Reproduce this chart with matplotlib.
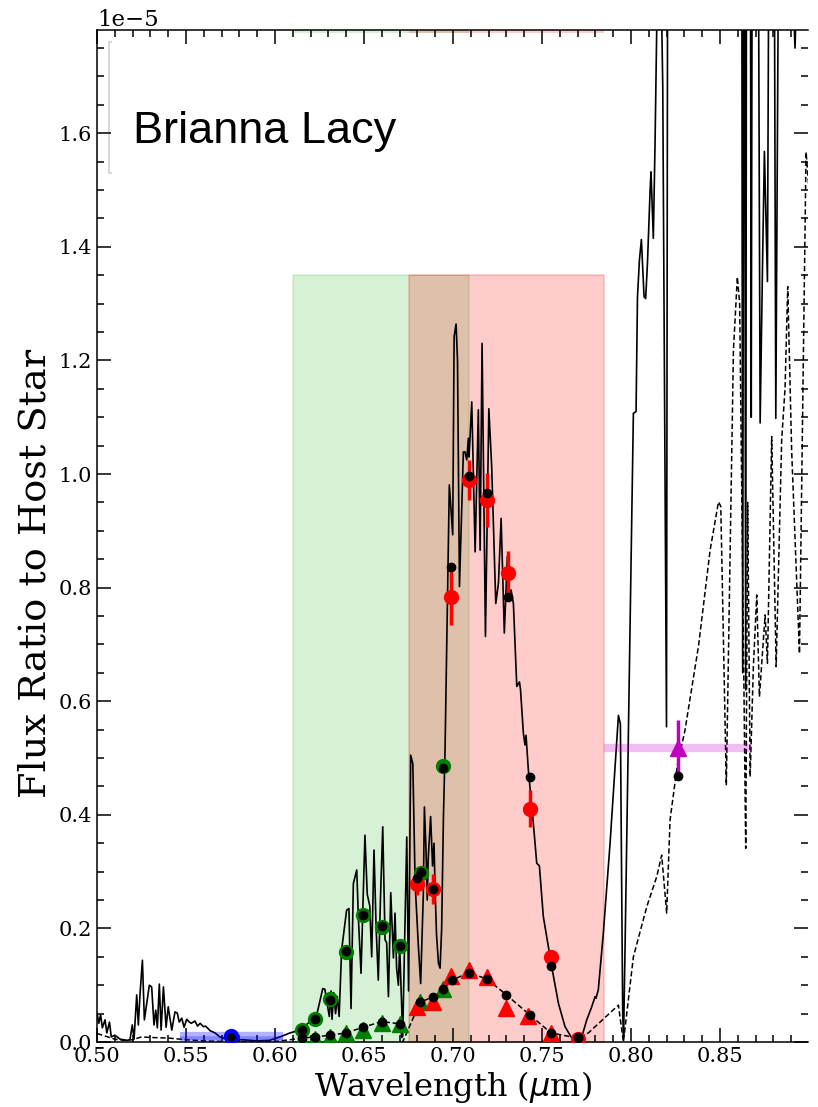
import numpy as np
import matplotlib
matplotlib.use("Agg")
import matplotlib.pyplot as plt
from matplotlib.ticker import MultipleLocator, FormatStrFormatter

SCALE = 1e-5  # all flux ratios below are in units of 1e-5

# High-resolution model spectrum (solid)
spec_wl = [0.5000, 0.5010, 0.5020, 0.5030, 0.5045, 0.5055, 0.5070, 0.5080, 0.5100, 0.5130,
           0.5167, 0.5185, 0.5198, 0.5208, 0.5223, 0.5232, 0.5242, 0.5255, 0.5266, 0.5280,
           0.5294, 0.5307, 0.5320, 0.5330, 0.5339, 0.5350, 0.5360, 0.5373, 0.5388, 0.5400,
           0.5420, 0.5438, 0.5451, 0.5462, 0.5476, 0.5489, 0.5504, 0.5519, 0.5530, 0.5550,
           0.5565, 0.5579, 0.5598, 0.5610, 0.5635, 0.5663, 0.5690, 0.5729, 0.5760, 0.5820,
           0.5897, 0.5970, 0.6028, 0.6084, 0.6140, 0.6197, 0.6230, 0.6268, 0.6280, 0.6290,
           0.6305, 0.6315, 0.6320, 0.6330, 0.6340, 0.6350, 0.6360, 0.6374, 0.6402, 0.6415,
           0.6427, 0.6440, 0.6459, 0.6468, 0.6483, 0.6505, 0.6518, 0.6532, 0.6543, 0.6556,
           0.6568, 0.6580, 0.6593, 0.6605, 0.6618, 0.6627, 0.6637, 0.6650, 0.6665, 0.6674,
           0.6683, 0.6693, 0.6700, 0.6717, 0.6740, 0.6750, 0.6762, 0.6774, 0.6787, 0.6805,
           0.6818, 0.6833, 0.6839, 0.6848, 0.6855, 0.6860, 0.6874, 0.6885, 0.6893, 0.6900,
           0.6907, 0.6918, 0.6927, 0.6936, 0.6946, 0.6955, 0.6964, 0.6979, 0.6998, 0.7006,
           0.7017, 0.7025, 0.7036, 0.7058, 0.7067, 0.7077, 0.7086, 0.7090, 0.7105, 0.7124,
           0.7142, 0.7152, 0.7163, 0.7182, 0.7201, 0.7217, 0.7240, 0.7255, 0.7270, 0.7288,
           0.7305, 0.7316, 0.7326, 0.7339, 0.7350, 0.7358, 0.7373, 0.7379, 0.7395, 0.7404,
           0.7410, 0.7423, 0.7451, 0.7470, 0.7485, 0.7507, 0.7554, 0.7592, 0.7629, 0.7667,
           0.7695, 0.7723, 0.7751, 0.7779, 0.7798, 0.7803, 0.7816, 0.7844, 0.7882, 0.7910,
           0.7929, 0.7940, 0.7953, 0.7958, 0.7966, 0.8013, 0.8028, 0.8036, 0.8047, 0.8058,
           0.8073, 0.8082, 0.8092, 0.8107, 0.8112, 0.8125, 0.8135, 0.8144, 0.8152, 0.8162,
           0.8178, 0.8199, 0.8208, 0.8300, 0.8450, 0.8620, 0.8627, 0.8635, 0.8644, 0.8650,
           0.8668, 0.8675, 0.8683, 0.8710, 0.8725, 0.8740, 0.8749, 0.8766, 0.8780, 0.8800,
           0.8813, 0.8837, 0.8900, 0.8915, 0.8921, 0.8930, 0.8960, 0.9000]
spec_fr = [0.051, 0.033, 0.048, 0.025, 0.039, 0.016, 0.035, 0.009, 0.012, 0.005,
           0.003, 0.004, 0.030, 0.005, 0.083, 0.030, 0.086, 0.144, 0.039, 0.069,
           0.100, 0.097, 0.030, 0.056, 0.025, 0.102, 0.021, 0.097, 0.026, 0.062,
           0.021, 0.053, 0.051, 0.035, 0.042, 0.026, 0.040, 0.035, 0.033, 0.037,
           0.028, 0.033, 0.027, 0.028, 0.020, 0.016, 0.009, 0.005, 0.004, 0.004,
           0.002, 0.003, 0.009, 0.016, 0.021, 0.036, 0.042, 0.094, 0.093, 0.073,
           0.045, 0.090, 0.040, 0.087, 0.050, 0.080, 0.045, 0.162, 0.232, 0.235,
           0.059, 0.279, 0.303, 0.220, 0.121, 0.364, 0.260, 0.240, 0.150, 0.338,
           0.200, 0.109, 0.260, 0.379, 0.180, 0.175, 0.080, 0.263, 0.148, 0.227,
           0.130, 0.100, 0.170, 0.010, 0.361, 0.090, 0.505, 0.490, 0.279, 0.170,
           0.103, 0.260, 0.414, 0.340, 0.250, 0.320, 0.397, 0.310, 0.350, 0.260,
           0.190, 0.139, 0.130, 0.200, 0.397, 0.514, 0.690, 0.981, 0.893, 1.242,
           1.264, 1.200, 0.802, 1.039, 1.039, 1.025, 1.063, 1.030, 1.127, 0.863,
           1.113, 0.866, 1.230, 0.714, 1.115, 1.013, 0.772, 0.808, 0.922, 0.720,
           0.855, 0.784, 0.796, 0.772, 0.690, 0.626, 0.634, 0.620, 0.544, 0.523,
           0.540, 0.479, 0.385, 0.315, 0.310, 0.221, 0.133, 0.068, 0.027, 0.007,
           0.004, 0.009, 0.039, 0.062, 0.080, 0.077, 0.092, 0.191, 0.350, 0.485,
           0.575, 0.560, 0.048, 0.010, 0.162, 1.107, 1.110, 1.312, 1.377, 1.413,
           1.312, 1.309, 1.371, 1.500, 1.532, 1.415, 1.588, 1.782, 2.200, 2.000,
           1.682, 0.555, 2.500, 3.000, 3.000, 2.500, 0.650, 2.500, 0.620, 2.500,
           2.400, 1.100, 2.400, 2.400, 1.090, 1.400, 1.568, 1.339, 2.400, 2.400,
           1.098, 2.400, 2.400, 1.800, 1.750, 1.850, 2.200, 1.900]

# Cloudier model spectrum (dashed)
model2_wl = [0.5000, 0.5050, 0.5100, 0.5150, 0.5200, 0.5250, 0.5300, 0.5400, 0.5500, 0.5600,
             0.5700, 0.5800, 0.6000, 0.6084, 0.6150, 0.6225, 0.6310, 0.6400, 0.6494, 0.6600,
             0.6700, 0.6717, 0.6815, 0.6890, 0.6946, 0.6993, 0.7090, 0.7190, 0.7300, 0.7430,
             0.7550, 0.7700, 0.7760, 0.7929, 0.7957, 0.8013, 0.8088, 0.8144, 0.8172, 0.8200,
             0.8219, 0.8260, 0.8303, 0.8369, 0.8380, 0.8444, 0.8491, 0.8504, 0.8535, 0.8575,
             0.8597, 0.8610, 0.8644, 0.8655, 0.8669, 0.8687, 0.8706, 0.8721, 0.8753, 0.8766,
             0.8790, 0.8815, 0.8846, 0.8865, 0.8880, 0.8902, 0.8946, 0.8983, 0.9000]
model2_fr = [0.015, 0.010, 0.005, 0.003, 0.004, 0.009, 0.008, 0.007, 0.004, 0.002,
             0.001, 0.001, 0.001, 0.004, 0.007, 0.009, 0.012, 0.016, 0.026, 0.036,
             0.032, 0.000, 0.070, 0.080, 0.093, 0.109, 0.122, 0.111, 0.083, 0.048,
             0.016, 0.007, 0.016, 0.065, 0.000, 0.150, 0.238, 0.291, 0.329, 0.227,
             0.391, 0.488, 0.549, 0.678, 0.700, 0.866, 0.951, 0.943, 0.452, 1.218,
             1.347, 1.300, 0.341, 0.950, 0.467, 0.661, 0.787, 0.608, 0.752, 0.667,
             1.066, 0.661, 1.060, 1.151, 1.330, 1.042, 0.684, 1.567, 1.500]

# Observed photometry: band centres, flux ratios and errors
green_wl = [0.6150, 0.6225, 0.6310, 0.6400, 0.6494, 0.6600, 0.6700, 0.6818, 0.6946]
green_fr = [0.021, 0.040, 0.075, 0.159, 0.224, 0.203, 0.169, 0.298, 0.486]
green_model = [0.021, 0.040, 0.074, 0.160, 0.224, 0.204, 0.169, 0.300, 0.482]

red_wl = [0.6800, 0.6890, 0.6990, 0.7090, 0.7190, 0.7310, 0.7430, 0.7550, 0.7700]
red_fr = [0.279, 0.269, 0.784, 0.989, 0.954, 0.826, 0.411, 0.149, 0.006]
red_err = [0.020, 0.026, 0.050, 0.035, 0.048, 0.039, 0.032, 0.012, 0.004]
red_model = [0.288, 0.269, 0.836, 0.997, 0.967, 0.783, 0.466, 0.134, 0.008]

# Photometry against the cloudier model (triangles)
green_tri_wl = [0.6150, 0.6225, 0.6310, 0.6400, 0.6494, 0.6600, 0.6700, 0.6815, 0.6946]
green_tri_fr = [0.004, 0.005, 0.009, 0.016, 0.022, 0.033, 0.031, 0.070, 0.093]
red_tri_wl = [0.6796, 0.6890, 0.6990, 0.7090, 0.7190, 0.7300, 0.7420, 0.7550]
red_tri_fr = [0.062, 0.071, 0.116, 0.127, 0.114, 0.060, 0.046, 0.015]
tri_model_wl = [0.6150, 0.6225, 0.6310, 0.6400, 0.6494, 0.6600, 0.6700, 0.6815, 0.6890,
                0.6946, 0.6993, 0.7090, 0.7190, 0.7300, 0.7430, 0.7550, 0.7700]
tri_model_fr = [0.007, 0.009, 0.012, 0.016, 0.026, 0.036, 0.032, 0.070, 0.080,
                0.093, 0.109, 0.122, 0.111, 0.083, 0.048, 0.016, 0.007]

# Broad-band points
blue_wl, blue_fr, blue_halfwidth = 0.5753, 0.011, 0.0289
blue_model = 0.008
mag_wl, mag_fr, mag_err, mag_halfwidth = 0.8263, 0.517, 0.050, 0.0415
mag_model = 0.469

# Spectral coverage of the two imaging channels
green_band = (0.610, 0.709)
red_band = (0.675, 0.785)
band_top = 1.35

fig = plt.figure(figsize=(8.18, 11.07), dpi=100)
ax = fig.add_axes([0.1186, 0.0587, 0.8692, 0.9143])

s = SCALE
# Band shading
ax.fill_between(green_band, 0, band_top * s, color='#00ae00', alpha=0.16, lw=1.2,
                edgecolor='#00ae00', zorder=0)
ax.fill_between(red_band, 0, band_top * s, color='red', alpha=0.2, lw=1.2,
                edgecolor='red', zorder=0)
ax.axvspan(*green_band, ymin=0.997, ymax=1, color='#00ae00', alpha=0.16, lw=0, zorder=0)
ax.axvspan(*red_band, ymin=0.997, ymax=1, color='red', alpha=0.2, lw=0, zorder=0)

# Spectra
ax.plot(spec_wl, np.array(spec_fr) * s, color='black', lw=1.2, zorder=2)
ax.plot(model2_wl, np.array(model2_fr) * s, color='black', lw=1.1, ls='--',
        dashes=(3.5, 1.8), zorder=2)

# Broad-band horizontal widths
ax.errorbar(blue_wl, blue_fr * s, xerr=blue_halfwidth, fmt='none', ecolor='blue',
            elinewidth=6, alpha=0.3, zorder=3)
ax.errorbar(blue_wl, (blue_fr - 0.006) * s, xerr=blue_halfwidth, fmt='none', ecolor='blue',
            elinewidth=4, alpha=0.25, zorder=3)
ax.errorbar(mag_wl, mag_fr * s, xerr=mag_halfwidth, fmt='none', ecolor='m',
            elinewidth=6, alpha=0.25, zorder=3)

# Triangles (cloudier model comparison)
ax.plot(green_tri_wl, np.array(green_tri_fr) * s, ls='none', marker='^', ms=11,
        color='green', mec='green', zorder=4)
ax.plot(red_tri_wl, np.array(red_tri_fr) * s, ls='none', marker='^', ms=11,
        color='red', mec='red', zorder=4)
ax.plot(tri_model_wl, np.array(tri_model_fr) * s, ls='none', marker='o', ms=6,
        color='black', zorder=6)

# Circles with error bars
ax.plot(green_wl, np.array(green_fr) * s, ls='none', marker='o', ms=10,
        color='green', zorder=4)
ax.errorbar(red_wl, np.array(red_fr) * s, yerr=np.array(red_err) * s, fmt='o', ms=10,
            color='red', ecolor='red', elinewidth=2.5, capsize=0, zorder=4)
ax.plot(green_wl, np.array(green_model) * s, ls='none', marker='o', ms=6,
        color='black', zorder=6)
ax.plot(red_wl, np.array(red_model) * s, ls='none', marker='o', ms=6,
        color='black', zorder=6)

ax.plot(blue_wl, blue_fr * s, ls='none', marker='o', ms=10, color='blue', zorder=4)
ax.plot(blue_wl, blue_model * s, ls='none', marker='o', ms=5, color='black', zorder=6)

ax.errorbar(mag_wl, mag_fr * s, yerr=mag_err * s, fmt='^', ms=11, color='m',
            ecolor='m', elinewidth=2.5, capsize=0, zorder=5)
ax.plot(mag_wl, mag_model * s, ls='none', marker='o', ms=6, color='black', zorder=6)

# Faint bracket near the top-left corner
ax.plot([0.5081, 0.5066, 0.5066, 0.5081], np.array([1.761, 1.761, 1.530, 1.530]) * s,
        color='#d8d8d8', lw=1.5, zorder=1)

ax.text(0.5200, 1.583 * s, 'Brianna Lacy', fontsize=32.5, family='Liberation Sans',
        ha='left', va='baseline', zorder=7)

ax.set_xlim(0.50, 0.8994)
ax.set_ylim(0, 1.782e-5)

ax.xaxis.set_major_locator(MultipleLocator(0.05))
ax.xaxis.set_minor_locator(MultipleLocator(0.01))
ax.xaxis.set_major_formatter(FormatStrFormatter('%.2f'))
ax.yaxis.set_major_locator(MultipleLocator(0.2e-5))
ax.yaxis.set_minor_locator(MultipleLocator(0.05e-5))

ax.tick_params(which='both', direction='in', top=True, right=True, width=1.1,
               labelsize=15, labelfontfamily='DejaVu Serif')
ax.tick_params(which='major', length=10)
ax.tick_params(which='minor', length=5)
ax.yaxis.get_offset_text().set_fontsize(16.5)
ax.yaxis.get_offset_text().set_family('DejaVu Serif')

for side in ('left', 'bottom', 'top'):
    ax.spines[side].set_linewidth(1.1)
ax.spines['right'].set_visible(False)

ax.set_xlabel(r'Wavelength ($\mu$m)', fontsize=23, family='DejaVu Serif', labelpad=2)
ax.set_ylabel('Flux Ratio to Host Star', fontsize=27.5, family='DejaVu Serif')
ax.yaxis.set_label_coords(-0.061, 0.463)

fig.savefig('out.png', dpi=100)
